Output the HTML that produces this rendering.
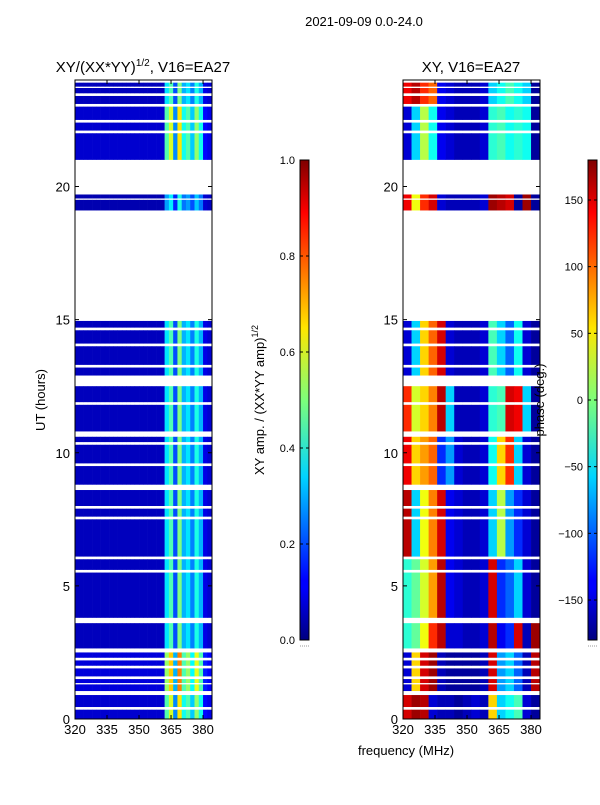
<!DOCTYPE html>
<html><head><meta charset="utf-8"><style>
body{margin:0;background:#fff;font-family:"Liberation Sans",sans-serif;}
svg text{font-family:"Liberation Sans",sans-serif;}
</style></head><body>
<svg id="fig" width="600" height="800" viewBox="0 0 600 800">
<defs>
<linearGradient id="jet" x1="0" y1="1" x2="0" y2="0">
<stop offset="0" stop-color="#00007f"/><stop offset="0.11" stop-color="#0000ff"/><stop offset="0.125" stop-color="#0000ff"/>
<stop offset="0.34" stop-color="#00d4ff"/><stop offset="0.5" stop-color="#7dff7a"/><stop offset="0.65" stop-color="#ffe600"/>
<stop offset="0.89" stop-color="#ff0000"/><stop offset="1" stop-color="#7f0000"/>
</linearGradient>
</defs>
<text x="364" y="26" font-size="13" text-anchor="middle">2021-09-09 0.0-24.0</text>
<g id="left"></g>
<g id="right"></g>
<g id="cb1"></g>
<g id="cb2"></g>
<text x="143" y="72" font-size="15" text-anchor="middle">XY/(XX*YY)<tspan font-size="10" dy="-6">1/2</tspan><tspan dy="6">, V16=EA27</tspan></text>
<text x="471" y="72" font-size="15" text-anchor="middle">XY, V16=EA27</text>
<text transform="translate(45,400) rotate(-90)" font-size="13" text-anchor="middle">UT (hours)</text>
<text x="406" y="755" font-size="13" text-anchor="middle">frequency (MHz)</text>
<text transform="translate(264,400) rotate(-90)" font-size="13" text-anchor="middle">XY amp. / (XX*YY amp)<tspan font-size="9" dy="-6">1/2</tspan></text>
<text transform="translate(544,400) rotate(-90)" font-size="13" text-anchor="middle">phase (deg.)</text>
</svg>
<script>
// time blocks (hours) and segments with data
const blockRanges=[[0,1.0],[1.0,2.55],[2.55,3.7],[3.7,6.0],[6.0,8.75],[8.75,10.7],[10.7,12.7],[12.7,15.5],[19,20],[21,22.6],[22.6,24]];
const segments=[[0.0,0.35],[0.45,0.9],[1.05,1.3],[1.35,1.5],[1.6,1.9],[2.0,2.2],[2.3,2.5],[2.65,3.6],[3.8,5.5],[5.6,6.0],[6.1,7.5],[7.6,7.9],[8.0,8.6],[8.8,9.5],[9.6,10.3],[10.4,10.6],[10.8,11.8],[11.9,12.5],[12.9,13.2],[13.3,14.0],[14.1,14.6],[14.7,14.95],[19.1,19.5],[19.55,19.7],[21.0,22.0],[22.1,22.4],[22.5,23.0],[23.1,23.4],[23.5,23.7],[23.75,23.9]];
// amplitude per 2 MHz column (320..384)
const ampCols=[0.06,0.06,0.06,0.06,0.06,0.06,0.06,0.06,0.06,0.06,0.06,0.06,0.06,0.06,0.06,0.06,0.06,0.06,0.06,0.06,0.06,0.35,0.45,0.2,0.5,0.3,0.35,0.25,0.4,0.3,0.1,0.08];
const ampGain=[1.3,1.5,1.0,1.0,1.0,1.0,1.0,1.0,0.8,1.3,1.0];
// phase per 4 MHz column (320..384) per block
const phaseRows=[
[150,170,160,-150,-160,-160,-170,-160,-150,-160,60,-60,-40,-20,-150,-170],
[-150,60,150,170,-160,-170,-170,-170,-170,-160,150,-80,-60,-100,-160,160],
[-30,-10,40,120,160,-150,-150,-160,-160,-150,160,-140,-120,150,-160,170],
[-30,-10,30,80,160,-140,-150,-160,-160,-150,150,-120,-100,-60,-150,-170],
[160,-60,40,90,150,-140,-150,-160,-160,-150,-60,20,-80,-120,-150,-170],
[140,60,80,100,-120,-80,-150,-160,-160,-150,-40,60,120,-60,-150,-170],
[120,30,60,90,160,-60,-160,-160,-160,-150,-30,-20,150,140,-60,-170],
[-150,-60,60,100,150,-150,-160,-160,-160,-150,-20,-60,-100,-40,-150,-170],
[140,40,120,150,-150,-160,-160,-160,-160,-150,170,160,150,-170,170,-170],
[-150,-60,20,-40,-140,-150,-160,-160,-160,-150,-30,-20,-40,-30,-40,-170],
[140,160,120,100,-140,-150,-160,-160,-160,-150,-60,-40,-20,-40,-60,-170]];
const xTicks=[320,335,350,365,380];
const yTicks=[0,5,10,15,20];
const ampTicks=[0.0,0.2,0.4,0.6,0.8,1.0];
const phaseTicks=[-150,-100,-50,0,50,100,150];

const NS="http://www.w3.org/2000/svg";
const PT=80,PB=719,W=137,F0=320,F1=384.2;
const yS=h=>PB-(h/24)*(PB-PT);
const xS=(f,x0)=>x0+(f-F0)/(F1-F0)*W;
function jet(v){v=Math.max(0,Math.min(1,v));
 const c=x=>Math.round(255*Math.max(0,Math.min(1,x)));
 const r=c(Math.min(4*v-1.5,-4*v+4.5)),g=c(Math.min(4*v-0.5,-4*v+3.5)),b=c(Math.min(4*v+0.5,-4*v+2.5));
 return `rgb(${r},${g},${b})`;}
function mk(t,a,p){const e=document.createElementNS(NS,t);for(const k in a)e.setAttribute(k,a[k]);p.appendChild(e);return e;}
function blockOf(s){for(let i=0;i<blockRanges.length;i++){if(s[0]>=blockRanges[i][0]&&s[0]<blockRanges[i][1])return i;}return 0;}

function panel(g,x0,isPhase){
 mk('rect',{x:x0,y:PT,width:W,height:PB-PT,fill:'#fff'},g);
 segments.forEach(s=>{
  const b=blockOf(s),y1=yS(s[1]),y0=yS(s[0]);
  if(isPhase){
   phaseRows[b].forEach((p,i)=>{
    const f=F0+i*4,xa=xS(f,x0),xb=Math.min(xS(f+4,x0),x0+W);
    const r=mk('rect',{x:xa,y:y1,width:xb-xa+0.3,height:y0-y1,fill:jet((p+180)/360)},g);
    
    
   });
  }else{
   ampCols.forEach((a,i)=>{
    const f=F0+i*2,xa=xS(f,x0),xb=Math.min(xS(f+2,x0),x0+W);
    const r=mk('rect',{x:xa,y:y1,width:xb-xa+0.3,height:y0-y1,fill:jet(a*ampGain[b])},g);
    
    
   });
  }
 });
 mk('rect',{x:x0,y:PT,width:W,height:PB-PT,fill:'none',stroke:'#000','stroke-width':1},g);
 xTicks.forEach(t=>{const x=xS(t,x0);
  mk('line',{x1:x,x2:x,y1:PB,y2:PB-4,stroke:'#000'},g);
  mk('line',{x1:x,x2:x,y1:PT,y2:PT+4,stroke:'#000'},g);
  const tx=mk('text',{x:x,y:PB+15,'font-size':13,'text-anchor':'middle'},g);tx.textContent=t;
  
  
 });
 yTicks.forEach(t=>{const y=yS(t);
  mk('line',{x1:x0,x2:x0+4,y1:y,y2:y,stroke:'#000'},g);
  mk('line',{x1:x0+W,x2:x0+W-4,y1:y,y2:y,stroke:'#000'},g);
  const tx=mk('text',{x:x0-5,y:y+5,'font-size':13,'text-anchor':'end'},g);tx.textContent=t;
  
  
 });
}
panel(document.getElementById('left'),75,false);
panel(document.getElementById('right'),403,true);

function cbar(g,x0,ticks,vmin,vmax,fmt){
 const T=160,B=640;
 mk('rect',{x:x0,y:T,width:9,height:B-T,fill:'url(#jet)',stroke:'#000','stroke-width':1},g);
 mk('line',{x1:x0,x2:x0+9,y1:646,y2:646,stroke:'#999','stroke-dasharray':'1,1'},g);
 ticks.forEach(t=>{const y=B-(t-vmin)/(vmax-vmin)*(B-T);
  mk('line',{x1:x0,x2:x0+3,y1:y,y2:y,stroke:'#000'},g);
  mk('line',{x1:x0+9,x2:x0+6,y1:y,y2:y,stroke:'#000'},g);
  const tx=mk('text',{x:x0-5,y:y+4,'font-size':11,'text-anchor':'end'},g);tx.textContent=fmt(t);
  
  
 });
}
cbar(document.getElementById('cb1'),300,ampTicks,0,1,t=>t.toFixed(1));
cbar(document.getElementById('cb2'),588,phaseTicks,-180,180,t=>t<0?'\u2212'+(-t):String(t));
</script>
</body></html>
